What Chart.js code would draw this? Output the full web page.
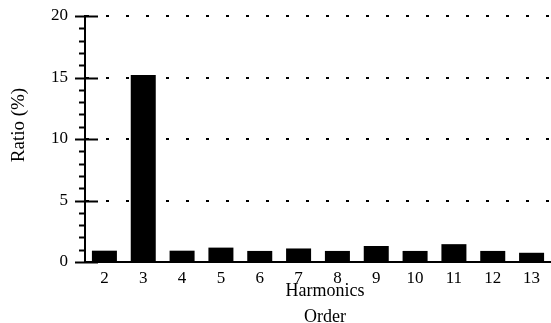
<!DOCTYPE html>
<html><head><meta charset="utf-8">
<script src="https://cdn.jsdelivr.net/npm/chart.js@4"></script>
<style>html,body{margin:0;padding:0;background:#fff;overflow:hidden}#c{display:block}</style>
</head><body>
<canvas id="c" width="551" height="323"></canvas>
<script>
const categories = ['2','3','4','5','6','7','8','9','10','11','12','13'];
const ratioValues = [0.92, 15.2, 0.92, 1.17, 0.9, 1.1, 0.9, 1.3, 0.9, 1.45, 0.9, 0.75];
const yTickValues = [0, 5, 10, 15, 20];
const yMinorStep = 1;
const xTitleLines = ['Harmonics', 'Order'];
const yTitleText = 'Ratio (%)';

const FONT = '"Liberation Serif", "DejaVu Serif", serif';

const axisDecor = {
  id: 'axisDecor',
  afterDraw(chart) {
    const ctx = chart.ctx;
    const ys = chart.scales.y;
    const x0 = chart.chartArea.left;
    const yMin = yTickValues[0], yMax = yTickValues[yTickValues.length - 1];
    ctx.save();
    ctx.strokeStyle = '#000';
    ctx.lineWidth = 2;
    for (let v = yMin; v <= yMax; v += yMinorStep) {
      const py = Math.round(ys.getPixelForValue(v)) + 0.5;
      const major = yTickValues.includes(v);
      ctx.beginPath();
      ctx.moveTo(x0 - (major ? 10 : 6), py);
      ctx.lineTo(x0 + (major ? 13 : 0), py);
      ctx.stroke();
    }
    ctx.fillStyle = '#000';
    ctx.textAlign = 'center';
    ctx.textBaseline = 'middle';
    ctx.font = '18px ' + FONT;
    const xc = 325;
    ctx.fillText(xTitleLines[0], xc, 291);
    ctx.fillText(xTitleLines[1], xc, 317);
    ctx.translate(19, 125);
    ctx.rotate(-Math.PI / 2);
    ctx.font = '19px ' + FONT;
    ctx.fillText(yTitleText, 0, 0);
    ctx.restore();
  }
};

new Chart(document.getElementById('c'), {
  type: 'bar',
  data: {
    labels: categories,
    datasets: [{
      data: ratioValues,
      backgroundColor: '#000',
      borderWidth: 0,
      barPercentage: 0.644,
      categoryPercentage: 1
    }]
  },
  options: {
    responsive: false,
    animation: false,
    devicePixelRatio: 1,
    layout: { padding: { top: 16, left: 0, right: 0, bottom: 0 } },
    plugins: { legend: { display: false }, tooltip: { enabled: false }, title: { display: false } },
    scales: {
      x: {
        type: 'category',
        offset: true,
        grid: { display: false, drawTicks: false },
        border: { display: true, color: '#000', width: 2 },
        ticks: { color: '#000', font: { size: 17, family: FONT }, padding: 6, maxRotation: 0 },
        afterFit: s => { s.height = 61; s.paddingLeft = 0; s.paddingRight = 0; }
      },
      y: {
        min: 0, max: 20,
        afterBuildTicks: s => { s.ticks = yTickValues.map(v => ({ value: v })); },
        grid: { color: '#000', lineWidth: 2, drawTicks: false },
        border: { display: true, color: '#000', width: 2, dash: [3, 17], dashOffset: 0 },
        ticks: { color: '#000', font: { size: 17, family: FONT }, padding: 17 },
        afterFit: s => { s.width = 85; s.paddingTop = 0; s.paddingBottom = 0; }
      }
    }
  },
  plugins: [axisDecor]
});
</script>
</body></html>
